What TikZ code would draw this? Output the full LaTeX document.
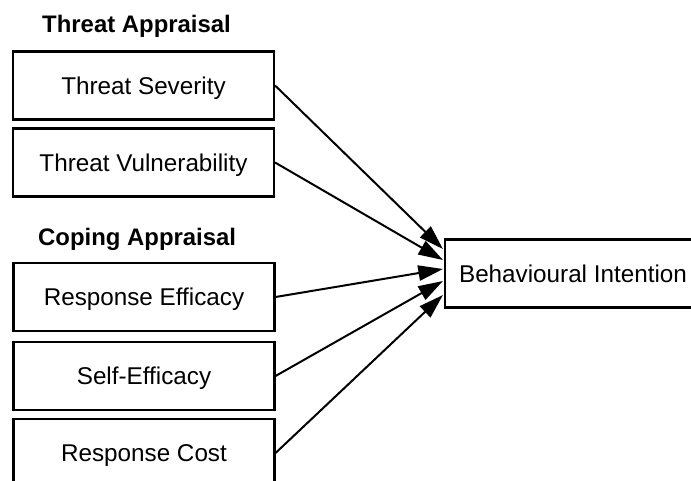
\documentclass[tikz,border=0pt]{standalone}
\usepackage{fontspec}
\setmainfont{Liberation Sans}
\usetikzlibrary{arrows.meta,calc}

\begin{document}
\begin{tikzpicture}[x=0.03cm,y=-0.03cm]
        \tikzstyle{box}=[rectangle, draw, line width=1.8pt, minimum width=7.83cm, minimum height=2.04cm, inner sep=0pt, text height=14.8pt, text depth=0pt, font=\fontsize{20.7}{25}\selectfont]
        \tikzstyle{head}=[anchor=base west, inner sep=0pt, font=\bfseries\fontsize{20.4}{25}\selectfont]
        \tikzstyle{arr}=[line width=1.7pt, -{Triangle[length=21pt,width=13pt]}]

        \clip (0,0) rectangle (691,481);

        \node[head] (ta) at (42,33) {Threat Appraisal};
        \node[head] (ca) at (38,246) {Coping Appraisal};

        \node[box] (sev) at (143.5,85.5) {Threat Severity};
        \node[box] (vul) at (143.5,162.5) {Threat Vulnerability};
        \node[box] (eff) at (144,297) {Response Efficacy};
        \node[box] (self) at (144,376) {Self-Efficacy};
        \node[box] (cost) at (144,453) {Response Cost};

        \node[box, minimum width=7.68cm] (bi) at (573,273.5) {Behavioural Intention};

        \draw[arr] (sev.east)  -- ($(bi.west)+(-1,-24.5)$);
        \draw[arr] (vul.east)  -- ($(bi.west)+(-1,-13.5)$);
        \draw[arr] (eff.east)  -- ($(bi.west)+(-1,-4.5)$);
        \draw[arr] (self.east) -- ($(bi.west)+(-1,7.5)$);
        \draw[arr] (cost.east) -- ($(bi.west)+(-1,21.5)$);

    \end{tikzpicture}
\end{document}
